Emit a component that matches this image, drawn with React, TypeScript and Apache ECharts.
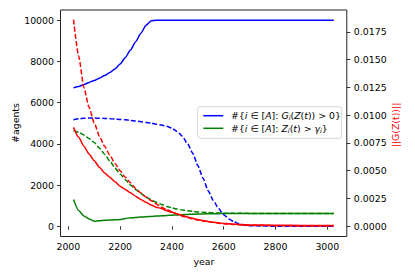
import React, { useEffect, useRef } from "react";
import * as echarts from "echarts";

const years = [
  2020, 2040, 2060, 2080, 2100, 2120, 2140, 2160, 2180, 2200,
  2220, 2240, 2260, 2280, 2300, 2320, 2340, 2360, 2380, 2400,
  2420, 2440, 2460, 2480, 2500, 2520, 2540, 2560, 2580, 2600,
  2620, 2640, 2660, 2680, 2700, 2800, 2900, 3025,
];

const blueSolid = [
  6720, 6790, 6880, 6980, 7080, 7190, 7320, 7460, 7640, 7880,
  8190, 8560, 8960, 9370, 9760, 9980, 10000, 10000, 10000, 10000,
  10000, 10000, 10000, 10000, 10000, 10000, 10000, 10000, 10000, 10000,
  10000, 10000, 10000, 10000, 10000, 10000, 10000, 10000,
];

const greenSolid = [
  1300, 760, 500, 350, 245, 265, 290, 300, 310, 320,
  380, 405, 425, 445, 460, 475, 490, 505, 520, 535,
  548, 560, 570, 580, 590, 597, 603, 607, 610, 612,
  613, 614, 615, 615, 615, 615, 615, 615,
];

const blueDashed = [
  5170, 5215, 5240, 5250, 5250, 5245, 5235, 5220, 5205, 5185,
  5165, 5140, 5110, 5075, 5040, 5000, 4955, 4910, 4850, 4760,
  4600, 4370, 4020, 3550, 2950, 2330, 1720, 1250, 860, 560,
  350, 210, 110, 50, 20, 0, 0, 0,
];

const greenDashed = [
  4650, 4560, 4430, 4260, 4060, 3800, 3500, 3170, 2830, 2530,
  2260, 2000, 1780, 1590, 1420, 1280, 1160, 1050, 960, 890,
  830, 790, 750, 720, 695, 675, 660, 648, 640, 635,
  630, 627, 625, 624, 623, 622, 621, 620,
];

const redSolid = [
  0.0089, 0.008, 0.0072, 0.0065, 0.0059, 0.0053, 0.0048, 0.0044, 0.004, 0.0036,
  0.0033, 0.003, 0.0027, 0.0024, 0.00215, 0.0019, 0.0017, 0.0016, 0.0014, 0.00125,
  0.0011, 0.00096, 0.00083, 0.00071, 0.0006, 0.0005, 0.00042, 0.00035, 0.0003, 0.00025,
  0.00021, 0.00018, 0.00015, 0.00013, 0.00011, 0.00008, 0.00007, 0.00007,
];

const redDashed = [
  0.0186, 0.0153, 0.0125, 0.0107, 0.0093, 0.0081, 0.0072, 0.0064, 0.00565, 0.005,
  0.0044, 0.0039, 0.0034, 0.003, 0.0026, 0.0023, 0.002, 0.0017, 0.0015, 0.0013,
  0.0011, 0.0009, 0.00078, 0.00066, 0.00056, 0.00047, 0.0004, 0.00033, 0.00027, 0.00022,
  0.00018, 0.00015, 0.00012, 0.0001, 0.00008, 0.00004, 0.00002, 0.00001,
];

const xTicks = [2000, 2200, 2400, 2600, 2800, 3000];
const yLeftTicks = [0, 2000, 4000, 6000, 8000, 10000];
const yRightTicks = [0, 0.0025, 0.005, 0.0075, 0.01, 0.0125, 0.015, 0.0175];

const legendLabels = [
  "#{{it|i}{n| ∈ [}{it|A}{n|]: }{it|G}{sub|i}{n|(}{it|Z}{n|(}{it|t}{n|)) > 0}}",
  "#{{it|i}{n| ∈ [}{it|A}{n|]: }{it|Z}{sub|i}{n|(}{it|t}{n|) > }{it|γ}{sub|i}}",
];

const FONT = "DejaVu Sans";
const BLUE = "#0000ff";
const GREEN = "#008000";
const RED = "#ff0000";

function pairs(vals: number[]) {
  return years.map((y, i) => [y, vals[i]]);
}

export default function App() {
  const ref = useRef<HTMLDivElement>(null);
  useEffect(() => {
    const chart = echarts.init(ref.current!, null, { renderer: "svg" });
    const labelStyle = { fontFamily: FONT, fontSize: 9.4, color: "#000" };
    const tick = { show: true, inside: false, length: 3.5, lineStyle: { color: "#000", width: 0.8 } };
    const line = (name: string, vals: number[], color: string, dashed: boolean, yIdx: number) => ({
      type: "line",
      name,
      data: pairs(vals),
      yAxisIndex: yIdx,
      showSymbol: false,
      symbol: "none",
      smooth: 0.2,
      smoothMonotone: "x",
      lineStyle: { color, width: 1.5, type: dashed ? [5, 2.2] : "solid" },
      itemStyle: { color },
      z: 3,
    });
    const rich = {
      n: { fontFamily: FONT, fontSize: 9.4, color: "#000" },
      it: { fontFamily: FONT, fontSize: 9.4, fontStyle: "italic", color: "#000" },
      sub: { fontFamily: FONT, fontSize: 6.6, fontStyle: "italic", color: "#000", padding: [5, 0, 0, 0] },
    };
    chart.setOption({
      animation: false,
      backgroundColor: "#fff",
      grid: {
        left: 60.5,
        right: 68.2,
        top: 10,
        bottom: 40.5,
        show: true,
        borderColor: "#222",
        borderWidth: 1,
        backgroundColor: "transparent",
      },
      xAxis: {
        type: "value",
        min: 1969.75,
        max: 3075.25,
        axisLine: { show: false },
        axisTick: { ...tick, customValues: xTicks },
        axisLabel: { ...labelStyle, margin: 5, customValues: xTicks, formatter: (v: number) => String(v) },
        splitLine: { show: false },
      },
      yAxis: [
        {
          type: "value",
          position: "left",
          min: -500,
          max: 10500,
          axisLine: { show: false },
          axisTick: { ...tick, customValues: yLeftTicks },
          axisLabel: { ...labelStyle, margin: 6.5, customValues: yLeftTicks, formatter: (v: number) => String(v) },
          splitLine: { show: false },
        },
        {
          type: "value",
          position: "right",
          min: -0.00093,
          max: 0.01947,
          axisLine: { show: false },
          axisTick: { ...tick, customValues: yRightTicks },
          axisLabel: { ...labelStyle, margin: 7, customValues: yRightTicks, formatter: (v: number) => v.toFixed(4) },
          splitLine: { show: false },
        },
      ],
      series: [
        line("blueSolid", blueSolid, BLUE, false, 0),
        line("greenSolid", greenSolid, GREEN, false, 0),
        line("blueDashed", blueDashed, BLUE, true, 0),
        line("greenDashed", greenDashed, GREEN, true, 0),
        line("redSolid", redSolid, RED, false, 1),
        line("redDashed", redDashed, RED, true, 1),
      ],
      graphic: [
        {
          type: "text",
          x: 15,
          y: 123,
          rotation: Math.PI / 2,
          style: { text: "#agents", fontFamily: FONT, fontSize: 9.4, fill: "#000", align: "center", verticalAlign: "middle" },
        },
        {
          type: "text",
          x: 204,
          y: 261,
          style: { text: "year", fontFamily: FONT, fontSize: 9.4, fill: "#000", align: "center", verticalAlign: "middle" },
        },
        {
          type: "text",
          x: 395,
          y: 125,
          rotation: Math.PI / 2,
          style: { text: "||G(Z(t))||", fontFamily: FONT, fontSize: 9.4, fill: RED, align: "center", verticalAlign: "middle" },
        },
        {
          type: "rect",
          shape: { x: 197.7, y: 106.7, width: 144, height: 31.6, r: 2.5 },
          style: { fill: "rgba(255,255,255,0.8)", stroke: "#cccccc", lineWidth: 0.8 },
          z: 10,
        },
        {
          type: "line",
          shape: { x1: 203.3, y1: 115.7, x2: 223.3, y2: 115.7 },
          style: { stroke: BLUE, lineWidth: 1.5 },
          z: 11,
        },
        {
          type: "line",
          shape: { x1: 203.3, y1: 128.3, x2: 223.3, y2: 128.3 },
          style: { stroke: GREEN, lineWidth: 1.5 },
          z: 11,
        },
        {
          type: "text",
          x: 231,
          y: 115.7,
          style: { text: legendLabels[0], rich, fontFamily: FONT, fontSize: 9.4, fill: "#000", verticalAlign: "middle" },
          z: 11,
        },
        {
          type: "text",
          x: 231,
          y: 128.3,
          style: { text: legendLabels[1], rich, fontFamily: FONT, fontSize: 9.4, fill: "#000", verticalAlign: "middle" },
          z: 11,
        },
      ],
    });
    return () => chart.dispose();
  }, []);
  return <div ref={ref} style={{ position: "fixed", left: 0, top: 0, width: 415, height: 277 }} />;
}
